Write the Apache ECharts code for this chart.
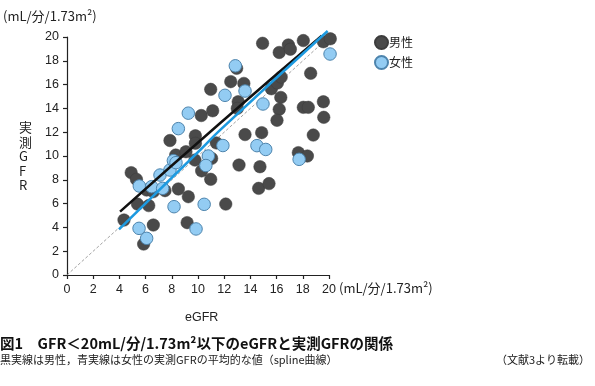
<!DOCTYPE html>
<html>
<head>
<meta charset="utf-8">
<script src="https://cdn.jsdelivr.net/npm/echarts@6/dist/echarts.min.js"></script>
<style>
html,body{margin:0;padding:0;background:#fff;}
#c{width:595px;height:386px;}
</style>
</head>
<body>
<div id="c"></div>
<script>
// ---- data ----
const xTicks = [0,2,4,6,8,10,12,14,16,18,20];
const yTicks = [0,2,4,6,8,10,12,14,16,18,20];
const maleData = [
  [4.35,4.62],[4.9,8.6],[5.3,8.04],[5.38,5.96],[6.24,5.83],[5.85,2.6],[6.59,4.2],
  [6.08,7.14],[6.59,7.0],[7.48,7.09],[7.86,11.3],[8.3,10.08],[8.5,7.23],[9.08,10.36],
  [9.77,9.66],[9.26,6.58],[9.17,4.4],[9.8,11.7],[9.8,11.07],[10.28,8.75],[10.97,8.04],
  [11.04,9.8],[11.4,11.1],[10.25,13.4],[11.12,13.8],[10.97,15.6],[12.5,16.25],[13.5,16.1],
  [12.95,17.37],[13.07,14.56],[13.0,14.0],[12.12,5.96],[13.13,9.24],[13.59,11.8],
  [14.86,11.96],[14.73,9.1],[14.63,7.28],[15.42,7.68],[14.93,19.47],[16.2,18.7],
  [16.9,19.33],[17.05,18.97],[18.04,19.7],[19.57,19.6],[20.1,19.85],[15.6,15.65],
  [16.06,16.13],[16.35,16.63],[16.32,14.92],[16.2,13.92],[16.03,13.0],[18.6,16.95],
  [18.04,14.09],[18.42,14.09],[19.57,14.56],[19.6,13.25],[18.8,11.76],[17.66,10.28],
  [18.35,10.0]
];
const femaleData = [
  [5.52,7.48],[6.46,7.42],[7.3,7.28],[7.1,8.4],[7.86,8.82],[8.12,9.61],[8.32,9.44],
  [8.5,12.3],[9.26,13.6],[10.79,10.0],[10.6,9.2],[11.9,10.88],[14.5,10.87],[15.17,10.55],
  [17.72,9.72],[8.17,5.74],[10.47,5.94],[5.5,3.92],[6.08,3.08],[9.85,3.87],
  [12.85,17.58],[12.06,15.1],[13.59,15.46],[14.96,14.37],[20.08,18.57]
];
const maleSpline = [[4.05,5.32],[11.68,12.75],[19.45,20.1]];
const femaleSpline = [[3.97,3.84],[10.3,10.65],[11.7,12.2],[19.9,20.5]];
const identityLine = [[0,0],[20,20]];
const legendNames = ['男性','女性'];
const unitText = '(mL/分/1.73m²)';
const yTitle = '実\n測\nG\nF\nR';
const xTitle = 'eGFR';
const figTitle = '図1　GFR＜20mL/分/1.73m²以下のeGFRと実測GFRの関係';
const figCaption = '黒実線は男性，青実線は女性の実測GFRの平均的な値（spline曲線）';
const figSource = '（文献3より転載）';

const sans = '"Liberation Sans", "Noto Sans CJK JP", sans-serif';
const cjk = '"Noto Sans CJK JP", sans-serif';

const chart = echarts.init(document.getElementById('c'));
chart.setOption({
  animation: false,
  backgroundColor: '#fff',
  grid: {left: 67, right: 266, top: 37, bottom: 111},
  xAxis: {
    type: 'value', min: 0, max: 20, interval: 2,
    axisLine: {show: true, lineStyle: {color: '#222', width: 1.2}},
    axisTick: {show: true, length: 4, lineStyle: {color: '#222', width: 1.2}},
    axisLabel: {color: '#222', fontSize: 12.5, margin: 8, fontFamily: sans,
      formatter: v => xTicks.includes(v) ? String(v) : ''},
    splitLine: {show: false}
  },
  yAxis: {
    type: 'value', min: 0, max: 20, interval: 2,
    axisLine: {show: true, lineStyle: {color: '#222', width: 1.2}},
    axisTick: {show: true, length: 4, lineStyle: {color: '#222', width: 1.2}},
    axisLabel: {color: '#222', fontSize: 12.5, margin: 8, fontFamily: sans,
      formatter: v => yTicks.includes(v) ? String(v) : ''},
    splitLine: {show: false}
  },
  legend: {
    orient: 'vertical', left: 369, top: 30, itemGap: 5,
    itemWidth: 13, itemHeight: 13, icon: 'circle',
    textStyle: {fontSize: 12, color: '#222', fontFamily: cjk, padding: [0,0,0,-4]},
    data: legendNames
  },
  series: [
    {type: 'line', data: identityLine, symbol: 'none', silent: true, clip: false,
     lineStyle: {color: '#8a8a8a', width: 0.8, type: [3,2]}, z: 1},
    {name: legendNames[0], type: 'scatter', data: maleData, symbolSize: 12.5, clip: false,
     itemStyle: {color: '#4a4a4a', borderColor: '#3c3c3c', borderWidth: 0.5, opacity: 1}, z: 2},
    {name: legendNames[1], type: 'scatter', data: femaleData, symbolSize: 12.5, clip: false,
     itemStyle: {color: '#93ccf3', borderColor: '#4d84ad', borderWidth: 1, opacity: 1}, z: 3},
    {type: 'line', data: maleSpline, symbol: 'none', smooth: true, clip: false,
     lineStyle: {color: '#111', width: 2.5}, z: 4},
    {type: 'line', data: femaleSpline, symbol: 'none', smooth: true, clip: false,
     lineStyle: {color: '#1d9ae0', width: 2.5}, z: 5}
  ],
  graphic: [
    {type: 'text', left: 3, top: 10, style: {text: unitText, fontSize: 13, fill: '#222', fontFamily: cjk}},
    {type: 'text', left: 19, top: 120, style: {text: yTitle, fontSize: 13, lineHeight: 14.5, fill: '#222', fontFamily: cjk, align: 'center', width: 12}},
    {type: 'text', left: 339, top: 282, style: {text: unitText, fontSize: 13, fill: '#222', fontFamily: cjk}},
    {type: 'text', left: 185, top: 311, style: {text: xTitle, fontSize: 12.5, fill: '#222', fontFamily: sans}},
    {type: 'text', left: 0, top: 336, style: {text: figTitle, fontSize: 14.5, fontWeight: 'bold', fill: '#111', fontFamily: cjk}},
    {type: 'text', left: 0, top: 354, style: {text: figCaption, fontSize: 11, fill: '#222', fontFamily: cjk}},
    {type: 'text', right: 5, top: 354, style: {text: figSource, fontSize: 11, fill: '#222', fontFamily: cjk}}
  ]
});
</script>
</body>
</html>
